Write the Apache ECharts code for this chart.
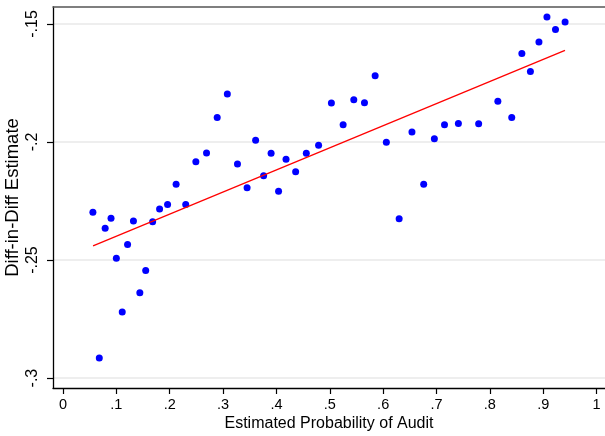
<!DOCTYPE html>
<html>
<head>
<meta charset="utf-8">
<title>Diff-in-Diff Estimate</title>
<script src="https://cdn.jsdelivr.net/npm/echarts@6/dist/echarts.min.js"></script>
<style>
  html, body { margin: 0; padding: 0; background: #fff; }
  #chart { width: 605px; height: 436px; }
</style>
</head>
<body>
<div id="chart"></div>
<script>
// estimated probability of audit (x) and diff-in-diff estimate (y)
var auditProb = [
  0.056, 0.068, 0.079, 0.090, 0.100, 0.111, 0.121, 0.132, 0.144, 0.155,
  0.168, 0.181, 0.196, 0.212, 0.230, 0.249, 0.269, 0.289, 0.308, 0.327,
  0.345, 0.361, 0.376, 0.390, 0.404, 0.418, 0.436, 0.456, 0.479, 0.503,
  0.525, 0.545, 0.565, 0.585, 0.606, 0.630, 0.654, 0.676, 0.696, 0.715,
  0.741, 0.779, 0.815, 0.841, 0.860, 0.876, 0.892, 0.907, 0.923, 0.941
];
var estimate = [
  -0.2297, -0.2915, -0.2365, -0.2323, -0.2492, -0.2720, -0.2434, -0.2335, -0.2639, -0.2544,
  -0.2338, -0.2284, -0.2265, -0.2179, -0.2265, -0.2084, -0.2046, -0.1896, -0.1797, -0.2093,
  -0.2194, -0.1992, -0.2143, -0.2048, -0.2208, -0.2073, -0.2126, -0.2048, -0.2014, -0.1835,
  -0.1927, -0.1821, -0.1834, -0.1719, -0.2001, -0.2325, -0.1957, -0.2179, -0.1986, -0.1927,
  -0.1922, -0.1923, -0.1827, -0.1896, -0.1625, -0.1701, -0.1576, -0.1470, -0.1523, -0.1492
];

// fitted line end points
var fitX = [0.0563, 0.9408];
var fitY = [-0.2440, -0.1612];

// tick labels
var xTicks = [0, 0.1, 0.2, 0.3, 0.4, 0.5, 0.6, 0.7, 0.8, 0.9, 1];
var yTicks = [-0.3, -0.25, -0.2, -0.15];

function stataNum(v) {
  return String(v).replace('0.', '.');
}

var points = auditProb.map(function (x, i) { return [x, estimate[i]]; });
var fitLine = fitX.map(function (x, i) { return [x, fitY[i]]; });

var chart = echarts.init(document.getElementById('chart'));
var fontName = '"Liberation Sans", Arial, Helvetica, sans-serif';

var option = {
  animation: false,
  backgroundColor: '#fff',
  textStyle: { fontFamily: fontName },
  grid: { left: 53, top: 7, right: 0, bottom: 48, containLabel: false, outerBoundsMode: 'none' },
  xAxis: [{
    type: 'value',
    min: -0.01875,
    max: 1.0158,
    name: 'Estimated Probability of Audit',
    nameLocation: 'middle',
    nameGap: 28,
    nameMoveOverlap: false,
    nameTextStyle: { fontSize: 16, color: '#000', fontFamily: fontName },
    axisLine: { show: true, onZero: false, lineStyle: { color: '#000', width: 1.3 } },
    axisTick: { show: true, length: 6, customValues: xTicks, lineStyle: { color: '#000', width: 1.2 } },
    axisLabel: { customValues: xTicks, margin: 9, fontSize: 14.5, color: '#000', formatter: stataNum },
    splitLine: { show: false }
  }, {
    type: 'value',
    position: 'top',
    min: -0.01875,
    max: 1.0158,
    axisLine: { show: true, onZero: false, lineStyle: { color: '#555', width: 1.5 } },
    axisTick: { show: false },
    axisLabel: { show: false },
    splitLine: { show: false }
  }],
  yAxis: {
    type: 'value',
    min: -0.3042,
    max: -0.1428,
    name: 'Diff-in-Diff Estimate',
    nameLocation: 'middle',
    nameGap: 31,
    nameMoveOverlap: false,
    nameTextStyle: { fontSize: 18.5, color: '#000', fontFamily: fontName },
    axisLine: { show: true, onZero: false, lineStyle: { color: '#000', width: 1.3 } },
    axisTick: { show: true, length: 6, customValues: yTicks, lineStyle: { color: '#000', width: 1.2 } },
    axisLabel: { customValues: yTicks, rotate: 90, margin: 12, fontSize: 16, color: '#000', formatter: stataNum },
    splitLine: { show: true, customValues: yTicks, lineStyle: { color: '#e8e8e8', width: 1.5 } }
  },
  series: [{
    type: 'scatter',
    data: points,
    symbol: 'circle',
    symbolSize: 7,
    itemStyle: { color: '#0000ff', opacity: 1 }
  }, {
    type: 'line',
    data: fitLine,
    symbol: 'none',
    lineStyle: { color: '#ff0000', width: 1.3 }
  }]
};

chart.setOption(option);
</script>
</body>
</html>
